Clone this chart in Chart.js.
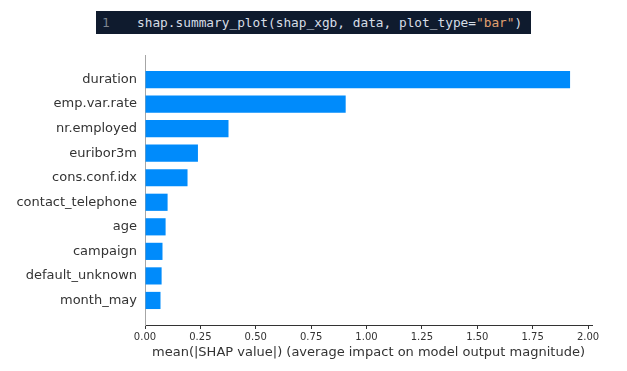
<!DOCTYPE html>
<html>
<head>
<meta charset="utf-8">
<script src="https://cdn.jsdelivr.net/npm/chart.js@4/dist/chart.umd.min.js"></script>
<style>
  body { margin: 0; background: #fff; }
  #wrap { position: relative; width: 627px; height: 371px; }
  #code {
    position: absolute; left: 96px; top: 11px; width: 435px; height: 23px;
    background: #0f1b2e; color: #d6dde6;
    font-family: "DejaVu Sans Mono", monospace; font-size: 12.8px;
    line-height: 23px; white-space: pre;
  }
  #code .ln { color: #7d8590; display: inline-block; width: 41px; padding-left: 6px; box-sizing: border-box; }
  #code .str { color: #e0a070; }
</style>
</head>
<body>
<div id="wrap">
  <canvas id="chart" width="627" height="371"></canvas>
  <div id="code"><span class="ln">1</span>shap.summary_plot(shap_xgb, data, plot_type=<span class="str">"bar"</span>)</div>
</div>
<script>
// features, top to bottom
const features = [
    'duration',
    'emp.var.rate',
    'nr.employed',
    'euribor3m',
    'cons.conf.idx',
    'contact_telephone',
    'age',
    'campaign',
    'default_unknown',
    'month_may'
];
// mean |SHAP value|
const shapValues = [1.919, 0.906, 0.377, 0.239, 0.192, 0.102, 0.093, 0.079, 0.075, 0.070];
const xTicks = [0, 0.25, 0.5, 0.75, 1.0, 1.25, 1.5, 1.75, 2.0];

const textColor = '#333333';

new Chart(document.getElementById('chart'), {
    type: 'bar',
    data: {
        datasets: [{
            data: features.map((f, i) => ({ x: shapValues[i], y: i })),
            backgroundColor: '#008bfb',
            borderWidth: 0,
            barPercentage: 0.7,
            categoryPercentage: 1.0
        }]
    },
    options: {
        indexAxis: 'y',
        responsive: false,
        animation: false,
        devicePixelRatio: 1,
        layout: { padding: { top: 55, right: 35, left: 0, bottom: 11 } },
        plugins: {
            legend: { display: false },
            tooltip: { enabled: false }
        },
        scales: {
            x: {
                type: 'linear',
                min: 0,
                max: 2.018,
                afterBuildTicks: (scale) => { scale.ticks = xTicks.map(v => ({ value: v })); },
                afterFit: (scale) => { scale.height = 35; },
                grid: { display: true, drawOnChartArea: false, drawTicks: true, tickLength: 4, tickColor: '#333333' },
                border: { display: true, color: '#333333', width: 1 },
                ticks: {
                    color: textColor,
                    padding: 2,
                    font: { family: 'DejaVu Sans', size: 10 },
                    callback: (v) => Number(v).toFixed(2)
                },
                title: {
                    display: true,
                    text: 'mean(|SHAP value|) (average impact on model output magnitude)',
                    color: textColor,
                    font: { family: 'DejaVu Sans', size: 13 },
                    padding: { top: 1, bottom: 0 }
                }
            },
            y: {
                type: 'linear',
                reverse: true,
                offset: false,
                min: -1,
                max: 10,
                afterBuildTicks: (scale) => { scale.ticks = features.map((f, i) => ({ value: i })); },
                afterFit: (scale) => { scale.width = 145; },
                grid: { display: false, tickLength: 0 },
                border: { display: true, color: '#a6a6a6', width: 1 },
                ticks: {
                    color: textColor,
                    padding: 8,
                    font: { family: 'DejaVu Sans', size: 13 },
                    callback: (v) => features[v] ?? ''
                }
            }
        }
    }
});
</script>
</body>
</html>
